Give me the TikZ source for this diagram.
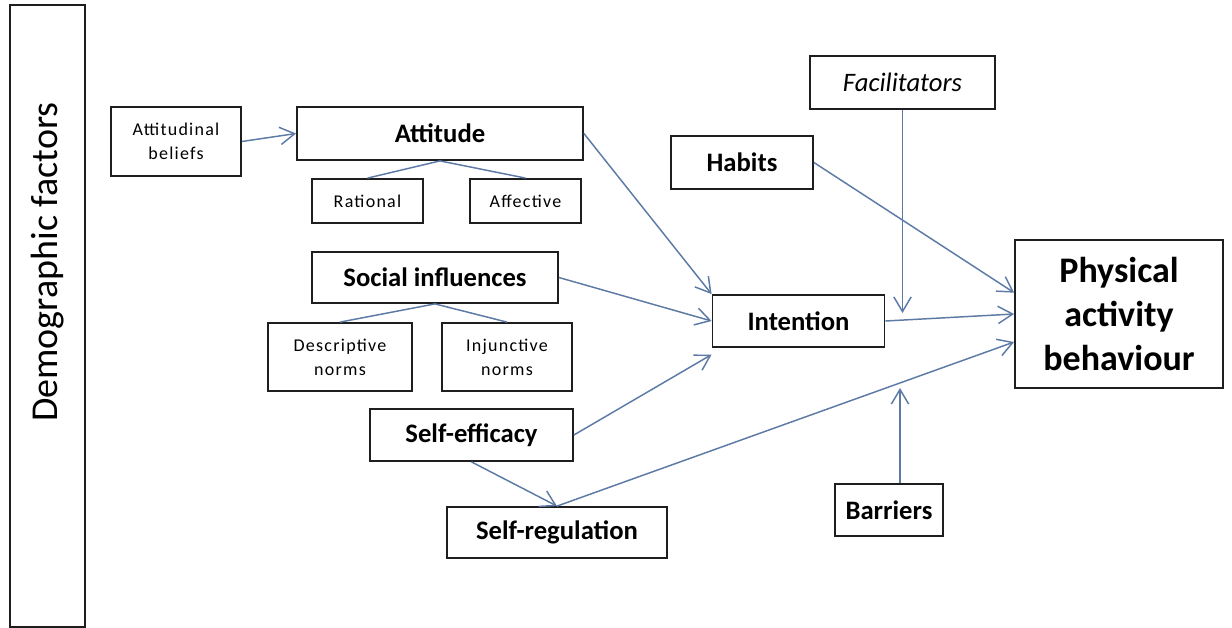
\documentclass[tikz,border=0pt]{standalone}
\usepackage{fontspec}
\setmainfont{Carlito}
\newfontfamily\spacedfont[LetterSpace=7]{Carlito}
\usetikzlibrary{arrows.meta,positioning}
\definecolor{linkblue}{RGB}{92,122,165}
\definecolor{boxline}{RGB}{30,30,30}

\begin{document}
\begin{tikzpicture}[
  x=0.75pt, y=-0.75pt,
  box/.style = {rectangle, draw=boxline, line width=1.35pt, inner sep=2pt, align=center},
  factor/.style = {box, font=\fontsize{20}{24}\selectfont\bfseries},
  subfactor/.style = {box, font=\spacedfont\fontsize{13.5}{18}\selectfont},
  arr/.style = {-{Straight Barb[length=11pt,width=13pt]}, draw=linkblue, line width=1.1pt},
  link/.style = {draw=linkblue, line width=1.1pt}
]
\useasboundingbox (0,0) rectangle (1232,628);

\node[box, minimum width=56.25pt, minimum height=466.5pt] (demo) at (47.5,316) {};
\node[rotate=90, font=\fontsize{28.5}{34}\selectfont] (demotext) at (48,262) {Demographic factors};

\node[subfactor, minimum width=97.5pt, minimum height=51.75pt] (belief) at (176,141.5) {Attitudinal\\beliefs};
\node[factor, minimum width=214.5pt, minimum height=39.75pt]   (att)    at (440,133.5) {Attitude};
\node[subfactor, minimum width=83.25pt, minimum height=33pt]   (rat)    at (367.5,201) {Rational};
\node[subfactor, minimum width=83.25pt, minimum height=33pt]   (aff)    at (525.5,201) {Affective};

\node[factor, minimum width=184.5pt, minimum height=38.25pt]   (soc)    at (435,277.5) {Social influences};
\node[subfactor, minimum width=108pt, minimum height=51pt]     (desc)   at (340,357)   {Descriptive\\norms};
\node[subfactor, minimum width=97.5pt, minimum height=51pt]    (inj)    at (507,357)   {Injunctive\\norms};

\node[factor, minimum width=152.25pt, minimum height=39pt]     (eff)    at (471.5,435) {Self-efficacy};
\node[factor, minimum width=165pt, minimum height=38.25pt]     (reg)    at (557,532.5) {Self-regulation};

\node[box, minimum width=138.75pt, minimum height=39.75pt, font=\fontsize{20}{24}\selectfont\itshape]
  (fac) at (902.5,82.5) {Facilitators};
\node[factor, minimum width=106.5pt, minimum height=39.75pt]   (hab)    at (742,162.5) {Habits};
\node[factor, minimum width=129pt, minimum height=39pt]        (int)    at (798.5,321) {Intention};
\node[factor, minimum width=81pt, minimum height=39pt]         (bar)    at (889,510)   {Barriers};
\node[box, minimum width=156pt, minimum height=111pt, font=\fontsize{27}{33}\selectfont\bfseries]
  (pa) at (1119,314) {Physical\\activity\\behaviour};

\coordinate (facend) at (902.5,313);
\coordinate (barend) at (900,388);

\draw[link] (att.south) -- (rat.north);
\draw[link] (att.south) -- (aff.north);
\draw[link] (soc.south) -- (desc.north);
\draw[link] (soc.south) -- (inj.north);

\draw[arr] (belief.east) -- (att.west);
\draw[arr] (att.east)    -- (int.north west);
\draw[arr] (soc.east)    -- (int.west);
\draw[arr] (eff.east)    -- ([yshift=-5pt]int.south west);
\draw[arr] (eff.south)   -- (reg.north);
\draw[arr] (hab.east)    -- ([yshift=16pt]pa.west);
\draw[arr] (int.east)    -- (pa.west);
\draw[arr] (reg.north)   -- ([yshift=-21pt]pa.west);
\draw[arr] (fac.south)   -- (facend);
\draw[arr] (bar.north -| barend) -- (barend);
\end{tikzpicture}
\end{document}
